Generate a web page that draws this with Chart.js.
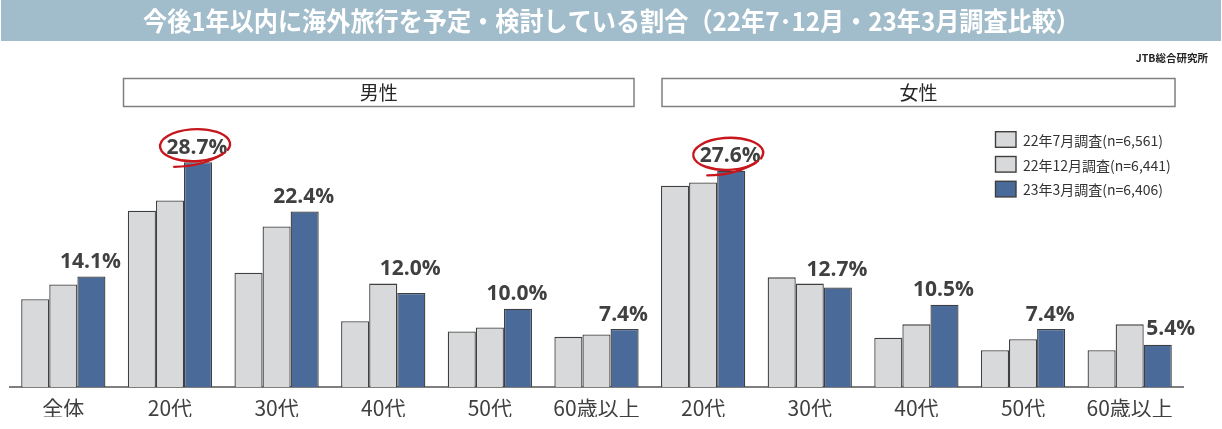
<!DOCTYPE html>
<html><head><meta charset="utf-8">
<script src="https://cdn.jsdelivr.net/npm/chart.js@4"></script>
<style>html,body{margin:0;padding:0;background:#fff;overflow:hidden}#wrap{width:1222px;height:429px;position:relative}</style>
</head><body><div id="wrap"><canvas id="c" width="1222" height="429"></canvas></div>
<script>
const categories = ['全体','20代','30代','40代','50代','60歳以上','20代','30代','40代','50代','60歳以上'];
const seriesNames = ['22年7月調査(n=6,561)','22年12月調査(n=6,441)','23年3月調査(n=6,406)'];
const jul22 = [11.2,22.5,14.6,8.4,7.1,6.4,25.7,14.0,6.3,4.7,4.7];
const dec22 = [13.1,23.8,20.5,13.2,7.6,6.7,26.1,13.2,8.0,6.1,8.0];
const mar23 = [14.1,28.7,22.4,12.0,10.0,7.4,27.6,12.7,10.5,7.4,5.4];
const highlighted = [1,6];
const panelLabels = ['男性','女性'];
const titleText = '今後1年以内に海外旅行を予定・検討している割合（22年7･12月・23年3月調査比較）';
const sourceText = 'JTB総合研究所';

const GRAY = '#D8D9DB', BLUE = '#4A6A99', EDGE = '#3F3F3F';
const seriesColors = [GRAY, GRAY, BLUE];
const CJK = '"Noto Sans CJK JP", "Noto Sans", sans-serif';
// label placement tweaks (pixels), index -> [dx, dy]
const labelNudge = { 3: [0, -10], 7: [0, -3], 10: [14, -1] };

function fitText(ctx, text, x, y, targetW, sy){
  const w = ctx.measureText(text).width;
  ctx.save();
  ctx.translate(x, y);
  ctx.scale(targetW ? targetW / w : 1, sy || 1);
  ctx.fillText(text, 0, 0);
  ctx.restore();
}

function drawHandEllipse(ctx, cx, cy, rx, ry){
  ctx.save();
  ctx.strokeStyle = '#C8161D';
  ctx.lineCap = 'round';
  ctx.lineWidth = 2.4;
  ctx.beginPath();
  ctx.ellipse(cx, cy, rx, ry, -0.04, 0.22*Math.PI, 0.22*Math.PI + 1.9*Math.PI);
  ctx.stroke();
  ctx.beginPath();
  ctx.moveTo(cx + rx*0.85, cy + ry*0.45);
  ctx.quadraticCurveTo(cx + rx*0.25, cy + ry*1.35, cx - rx*0.6, cy + ry*1.35);
  ctx.lineWidth = 2.2;
  ctx.stroke();
  ctx.restore();
}

const decor = {
  id: 'decor',
  beforeDraw(chart){
    const ctx = chart.ctx;
    ctx.save();
    ctx.fillStyle = '#A1BCCB';
    ctx.fillRect(1, 0, 1220, 41);
    ctx.fillStyle = '#FFFFFF';
    ctx.font = 'bold 24px ' + CJK;
    ctx.textAlign = 'left';
    ctx.textBaseline = 'middle';
    fitText(ctx, titleText, 143, 21, 937, 1.08);
    ctx.fillStyle = '#222';
    ctx.font = 'bold 10.5px ' + CJK;
    ctx.textAlign = 'right';
    ctx.fillText(sourceText, 1208, 58);
    const boxes = [[123.5, 634], [662, 1175]];
    ctx.strokeStyle = '#7F7F7F';
    ctx.lineWidth = 1.5;
    ctx.font = '19px ' + CJK;
    ctx.fillStyle = '#262626';
    ctx.textAlign = 'center';
    boxes.forEach((b, i) => {
      ctx.strokeRect(b[0], 78.5, b[1]-b[0], 28);
      ctx.fillText(panelLabels[i], (b[0]+b[1])/2, 93);
    });
    ctx.font = '14px ' + CJK;
    ctx.textAlign = 'left';
    seriesNames.forEach((name, i) => {
      const cy = 139.5 + i*24.8;
      ctx.fillStyle = seriesColors[i];
      ctx.fillRect(995.5, cy-7.8, 20.5, 15.6);
      ctx.strokeStyle = EDGE;
      ctx.lineWidth = 1.4;
      ctx.strokeRect(995.5, cy-7.8, 20.5, 15.6);
      ctx.fillStyle = '#333';
      ctx.fillText(name, 1023, cy+1);
    });
    ctx.restore();
  },
  afterDatasetsDraw(chart){
    const ctx = chart.ctx;
    const meta = chart.getDatasetMeta(2);
    ctx.save();
    ctx.fillStyle = '#404040';
    ctx.font = 'bold 21px "Open Sans", "Liberation Sans", sans-serif';
    ctx.textAlign = 'center';
    ctx.textBaseline = 'alphabetic';
    meta.data.forEach((bar, i) => {
      const txt = mar23[i].toFixed(1) + '%';
      const n = labelNudge[i] || [0, 0];
      ctx.fillText(txt, bar.x - 1 + n[0], bar.y - 8.5 + n[1]);
    });
    highlighted.forEach(i => {
      const bar = meta.data[i];
      drawHandEllipse(ctx, bar.x - 3, bar.y - 17, 35, 16);
    });
    ctx.restore();
  }
};

new Chart(document.getElementById('c'), {
  type: 'bar',
  data: {
    labels: categories,
    datasets: [jul22, dec22, mar23].map((d, i) => ({
      label: seriesNames[i],
      data: d,
      backgroundColor: seriesColors[i],
      borderColor: EDGE,
      borderWidth: 1.3,
      barPercentage: 1,
      categoryPercentage: 0.79
    }))
  },
  options: {
    responsive: false,
    animation: false,
    layout: { padding: { top: 152, left: 10, right: 39, bottom: 12 } },
    plugins: { legend: { display: false }, tooltip: { enabled: false } },
    scales: {
      x: {
        afterFit: (s) => { s.height = 30; },
        grid: { display: false, drawTicks: false },
        border: { display: true, color: '#7F7F7F', width: 2 },
        ticks: { color: '#404040', font: { family: '"Noto Sans CJK JP", sans-serif', size: 21 }, padding: 8, maxRotation: 0, autoSkip: false }
      },
      y: { display: false, min: 0, max: 30 }
    }
  },
  plugins: [decor]
});
</script>
</body></html>
